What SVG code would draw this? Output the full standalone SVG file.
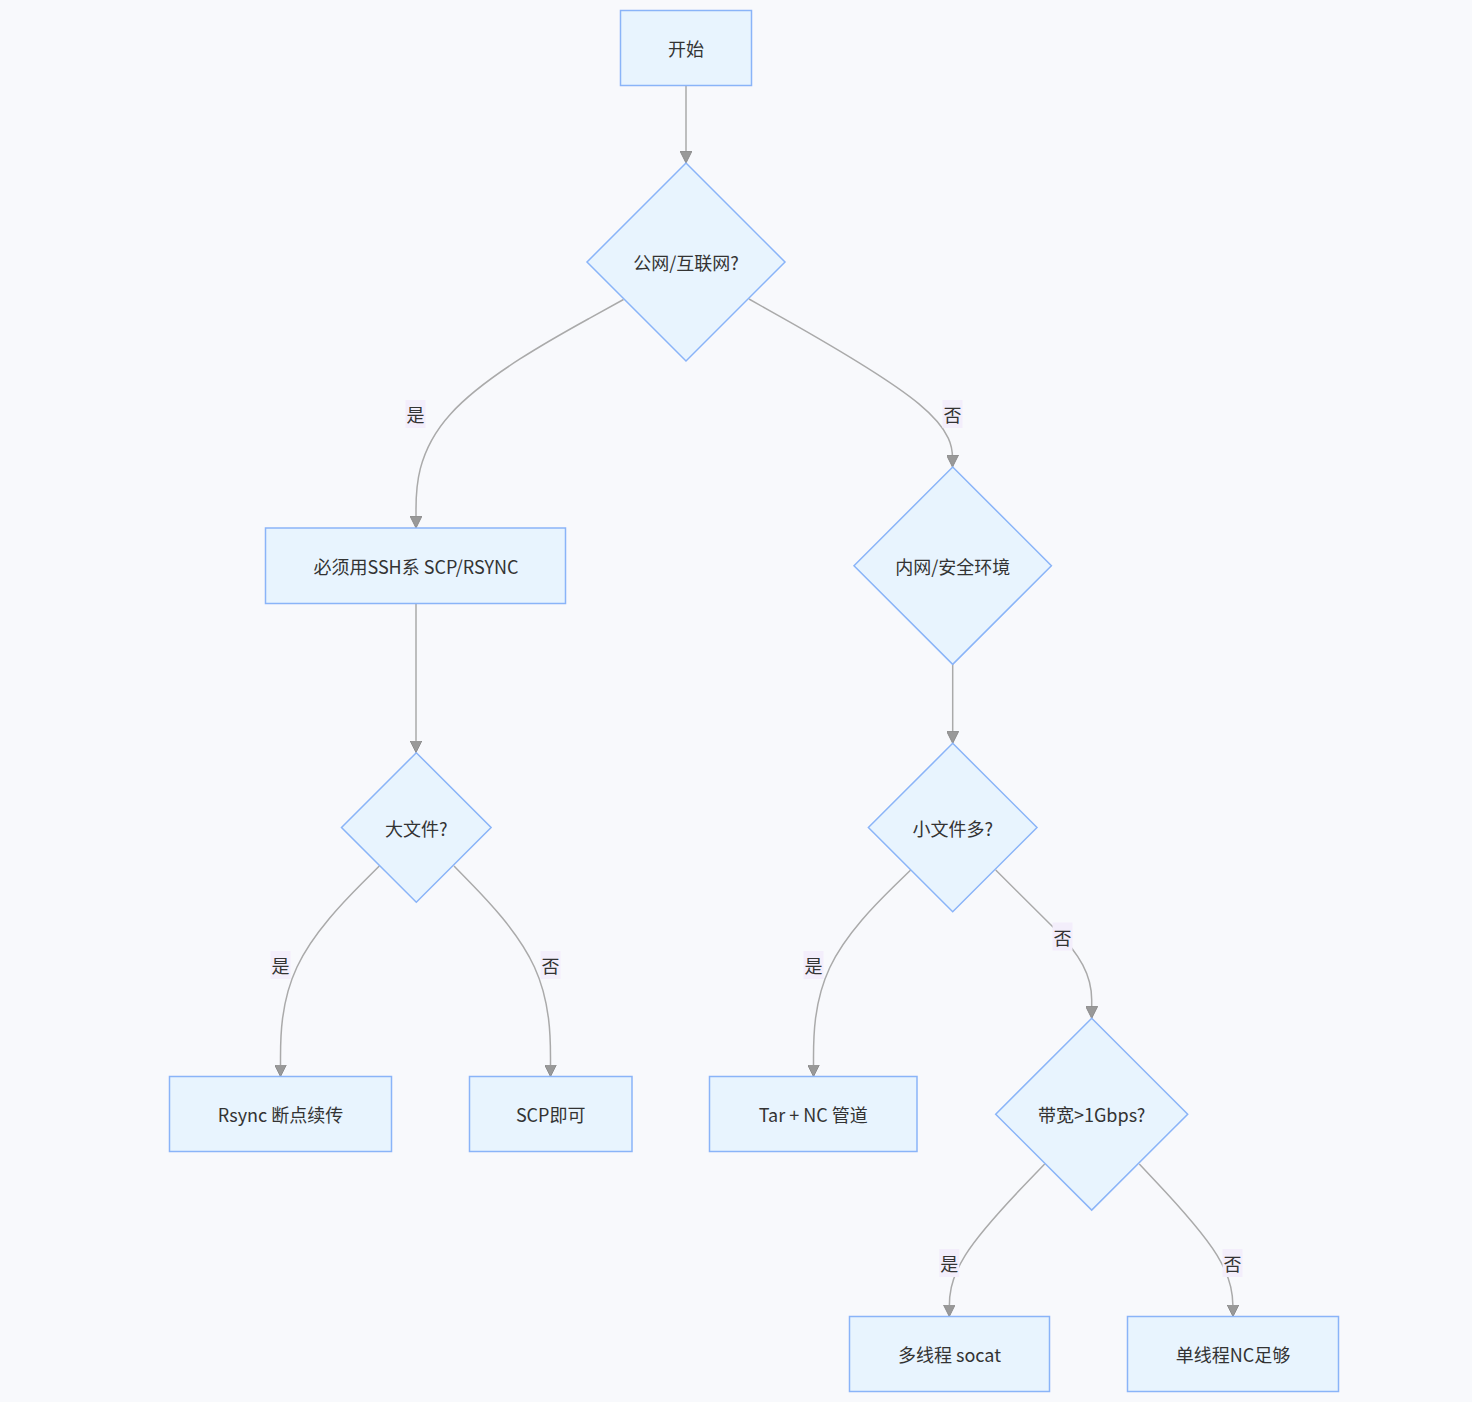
<svg xmlns="http://www.w3.org/2000/svg" width="1472" height="1402" viewBox="0 0 1472 1402">
<style>
.bg{fill:#f8f9fc}
.node rect,.node polygon{fill:#e8f4fe;stroke:#8ab4f8;stroke-width:1.5}
.node text,.lbl text{font-family:"Noto Sans CJK SC","Noto Sans",sans-serif;font-size:18px;fill:#333;text-anchor:middle;dominant-baseline:central}
.edge{fill:none;stroke:#aaa;stroke-width:1.5}
.lbl rect{fill:#f3eefb}
</style>
<defs>
<marker id="arr" viewBox="0 0 12 12" refX="12" refY="6" markerWidth="12" markerHeight="12" markerUnits="userSpaceOnUse" orient="auto">
<path d="M0,0 L12,6 L0,12 z" fill="#999" stroke="#8c8c8c" stroke-width="1"/>
</marker>
</defs>
<rect class="bg" x="0" y="0" width="1472" height="1402"/>
<g id="edges">
<path class="edge" marker-end="url(#arr)" d="M686,85.5 L686,163"/>
<path class="edge" marker-end="url(#arr)" d="M623.5,299.5 L588.9,318.6 C554.3,337.7 485.2,375.8 450.6,413.9 C416,452 416,490 416,509 L416,528"/>
<path class="edge" marker-end="url(#arr)" d="M749,299 L782.9,318.2 C816.8,337.3 884.7,375.7 918.6,403.7 C952.5,431.7 952.5,449.3 952.5,458.2 L952.5,467"/>
<path class="edge" marker-end="url(#arr)" d="M416,603.5 L416,752.5"/>
<path class="edge" marker-end="url(#arr)" d="M952.7,664 L952.7,743.3"/>
<path class="edge" marker-end="url(#arr)" d="M379.3,866 L362.8,882.5 C346.4,899 313.4,932 297,967 C280.5,1002 280.5,1039 280.5,1057.5 L280.5,1076.5"/>
<path class="edge" marker-end="url(#arr)" d="M454,866 L470.1,882.5 C486.2,899 518.3,932 534.4,967 C550.5,1002 550.5,1039 550.5,1057.5 L550.5,1076.5"/>
<path class="edge" marker-end="url(#arr)" d="M910.7,870 L894.5,885.8 C878.3,901.7 845.9,933.3 829.7,967.7 C813.5,1002 813.5,1039 813.5,1057.5 L813.5,1076.5"/>
<path class="edge" marker-end="url(#arr)" d="M995.7,870 L1055,929 C1080,955 1091.7,975 1091.7,1000 L1091.7,1018.3"/>
<path class="edge" marker-end="url(#arr)" d="M1044.7,1164 L1028.8,1180.5 C1012.9,1197 981.1,1230 965.2,1255.3 C949.3,1280.7 949.3,1298.3 949.3,1307.2 L949.3,1316.5"/>
<path class="edge" marker-end="url(#arr)" d="M1139.3,1164 L1154.8,1180.5 C1170.4,1197 1201.4,1230 1217.1,1255.3 C1232.7,1280.7 1232.8,1298.3 1233,1307.2 L1233,1316.5"/>
</g>
<g id="edge-labels">
<g class="lbl"><rect x="405.5" y="400" width="20" height="28"/><text x="415.5" y="414">是</text></g>
<g class="lbl"><rect x="942.5" y="400" width="20" height="28"/><text x="952.5" y="414">否</text></g>
<g class="lbl"><rect x="270.5" y="951" width="20" height="28"/><text x="280.5" y="965">是</text></g>
<g class="lbl"><rect x="540.5" y="951" width="20" height="28"/><text x="550.5" y="965">否</text></g>
<g class="lbl"><rect x="803.5" y="951" width="20" height="28"/><text x="813.5" y="965">是</text></g>
<g class="lbl"><rect x="1052.5" y="922.5" width="20" height="28"/><text x="1062.5" y="936.5">否</text></g>
<g class="lbl"><rect x="939.3" y="1249" width="20" height="28"/><text x="949.3" y="1263">是</text></g>
<g class="lbl"><rect x="1222.5" y="1249" width="20" height="28"/><text x="1232.5" y="1263">否</text></g>
</g>
<g id="start" class="node"><rect x="620.5" y="10.5" width="131" height="75"/><text x="686" y="48">开始</text></g>
<g id="public" class="node"><polygon points="686,163 785,262 686,361 587,262"/><text x="686" y="262">公网/互联网?</text></g>
<g id="ssh" class="node"><rect x="265.5" y="528" width="300" height="75.5"/><text x="416" y="566">必须用SSH系 SCP/RSYNC</text></g>
<g id="intranet" class="node"><polygon points="952.7,467 1051.4,565.7 952.7,664.4 854,565.7"/><text x="952.7" y="565.7">内网/安全环境</text></g>
<g id="bigfile" class="node"><polygon points="416.3,752.7 491.1,827.5 416.3,902.3 341.5,827.5"/><text x="416.3" y="827.5">大文件?</text></g>
<g id="smallfiles" class="node"><polygon points="952.7,743.3 1037,827.5 952.7,911.7 868.4,827.5"/><text x="952.7" y="827.5">小文件多?</text></g>
<g id="bandwidth" class="node"><polygon points="1091.7,1018.3 1187.7,1114.2 1091.7,1210.1 995.7,1114.2"/><text x="1091.7" y="1114.2">带宽&gt;1Gbps?</text></g>
<g id="rsync" class="node"><rect x="169.5" y="1076.5" width="222" height="75"/><text x="280.5" y="1114">Rsync 断点续传</text></g>
<g id="scp" class="node"><rect x="469.5" y="1076.5" width="162.5" height="75"/><text x="550.7" y="1114">SCP即可</text></g>
<g id="tarnc" class="node"><rect x="709.5" y="1076.5" width="207.5" height="75"/><text x="813.3" y="1114">Tar + NC 管道</text></g>
<g id="socat" class="node"><rect x="849.5" y="1316.5" width="200" height="75"/><text x="949.5" y="1354">多线程 socat</text></g>
<g id="singlenc" class="node"><rect x="1127.5" y="1316.5" width="211" height="75"/><text x="1233" y="1354">单线程NC足够</text></g>
</svg>
